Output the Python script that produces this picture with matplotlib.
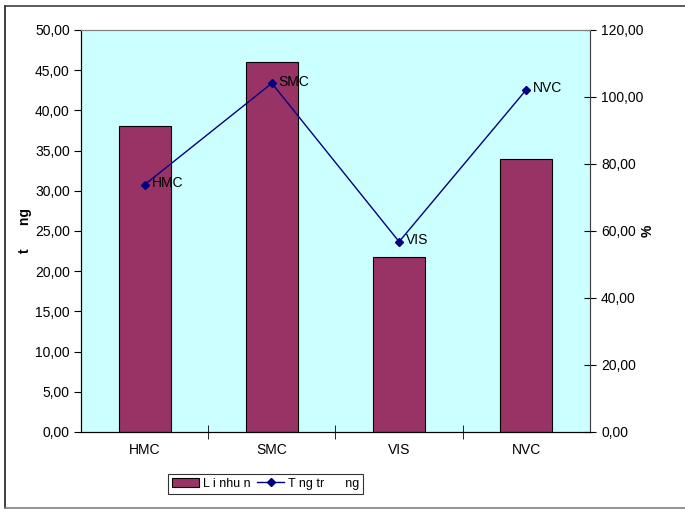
import matplotlib.pyplot as plt
import numpy as np
from matplotlib.lines import Line2D

plt.rcParams['font.family'] = ['Liberation Sans', 'DejaVu Sans']
plt.rcParams['font.size'] = 10

companies = ['HMC', 'SMC', 'VIS', 'NVC']
profit = [38.1, 46.05, 21.8, 33.9]       # left axis
growth = [73.8, 104.1, 56.8, 102.2]      # right axis, %
left_ticks = np.arange(0, 50.01, 5)
right_ticks = np.arange(0, 120.01, 20)

def fmt(v):
    return ('%.2f' % v).replace('.', ',')

fig = plt.figure(figsize=(6.85, 5.09), dpi=100)
# outer chart border (right side falls off the canvas)
fig.lines.append(Line2D([0.007, 0.007], [0.002, 0.988], transform=fig.transFigure, color='#202020', lw=1.2))
fig.lines.append(Line2D([0.007, 1.0], [0.988, 0.988], transform=fig.transFigure, color='#404040', lw=1.2))
fig.lines.append(Line2D([0.007, 1.0], [0.002, 0.002], transform=fig.transFigure, color='#808080', lw=1.2))

ax = fig.add_axes([0.1182, 0.1513, 0.7431, 0.7898])
ax.set_facecolor('#CCFFFF')
x = np.arange(len(companies))
ax.bar(x, profit, width=0.41, color='#993366', edgecolor='black', lw=0.8, label='L i nhu n', zorder=2)
ax.set_xlim(-0.5, len(companies) - 0.5)
ax.set_ylim(0, 50)
ax.set_yticks(left_ticks)
ax.set_yticklabels([fmt(v) for v in left_ticks])
ax.set_xticks(x)
ax.set_xticklabels(companies)
ax.set_xticks(np.arange(0.5, len(companies) - 0.5, 1), minor=True)
ax.tick_params(axis='x', which='major', length=0, pad=8)
ax.tick_params(axis='x', which='minor', length=10, direction='inout')
ax.tick_params(axis='y', length=5, direction='out', pad=3)
ax.set_ylabel('t      ng', fontweight='bold')
ax.yaxis.set_label_coords(-0.096, 0.5)
for s in ['top', 'right']:
    ax.spines[s].set_color('#808080')

ax2 = ax.twinx()
ax2.plot(x, growth, color='#000080', lw=1, marker='D', markersize=4, label='T ng tr      ng')
ax2.set_ylim(0, 120)
ax2.set_yticks(right_ticks)
ax2.set_yticklabels([fmt(v) for v in right_ticks])
ax2.tick_params(axis='y', length=8, direction='inout', pad=4)
ax2.set_ylabel('%', fontweight='bold')
ax2.yaxis.set_label_coords(1.10, 0.5)
ax2.spines['right'].set_color('#404040')
ax2.spines['top'].set_color('#808080')
for xi, g, name in zip(x, growth, companies):
    ax2.annotate(name, (xi, g), xytext=(5, 1), textcoords='offset points', va='center', ha='left')

h1, l1 = ax.get_legend_handles_labels()
h2, l2 = ax2.get_legend_handles_labels()
leg = fig.legend(h1 + h2, l1 + l2, loc='lower left', bbox_to_anchor=(0.236, 0.018), ncol=2,
                 frameon=True, fancybox=False, edgecolor='black', handlelength=2.2,
                 handletextpad=0.3, columnspacing=0.5, borderpad=0.3, fontsize=9)
leg.get_frame().set_linewidth(0.8)

fig.savefig('out.png', dpi=100)
